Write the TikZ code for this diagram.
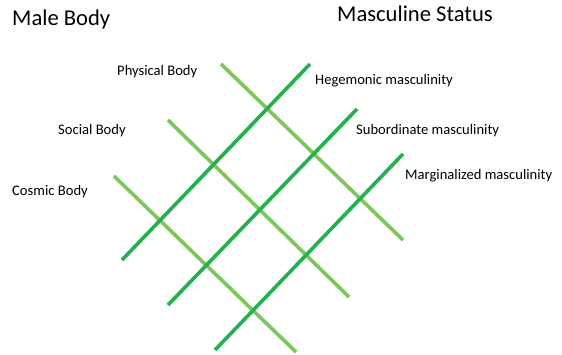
\documentclass[tikz,border=0pt]{standalone}
\usepackage{fontspec}
\setmainfont{Carlito}
\definecolor{lightgr}{HTML}{7DC65A}
\definecolor{darkgr}{HTML}{22B14C}

\begin{document}
\begin{tikzpicture}
[
	x=1pt,y=-1pt,
	bodyline/.style={line width=3.6pt,lightgr},
	statusline/.style={line width=3.6pt,darkgr},
	heading/.style={anchor=west,inner sep=0pt,font=\fontsize{22.6}{27}\selectfont},
	lbl/.style={anchor=west,inner sep=0pt,font=\fontsize{14.6}{17}\selectfont}
]
	\useasboundingbox (0,0) rectangle (562,354);

	% titles
	\node[heading] (male) at (12,19) {Male Body};
	\node[heading] (status) at (337,14) {Masculine Status};

	% body labels
	\node[lbl] (physical) at (117,72) {Physical Body};
	\node[lbl] (social) at (58,131) {Social Body};
	\node[lbl] (cosmic) at (12,192) {Cosmic Body};

	% status labels
	\node[lbl] (hegemonic) at (315,81) {Hegemonic masculinity};
	\node[lbl] (subordinate) at (356,131) {Subordinate masculinity};
	\node[lbl] (marginalized) at (405,176) {Marginalized masculinity};

	% body lines
	\draw[bodyline] (221,64) -- (403,240);
	\draw[bodyline] (168,120) -- (349,297);
	\draw[bodyline] (114,176) -- (296,352);

	% status lines
	\draw[statusline] (122,260) -- (310,64);
	\draw[statusline] (168,305) -- (357,109);
	\draw[statusline] (215,350) -- (403,154);

\end{tikzpicture}
\end{document}
